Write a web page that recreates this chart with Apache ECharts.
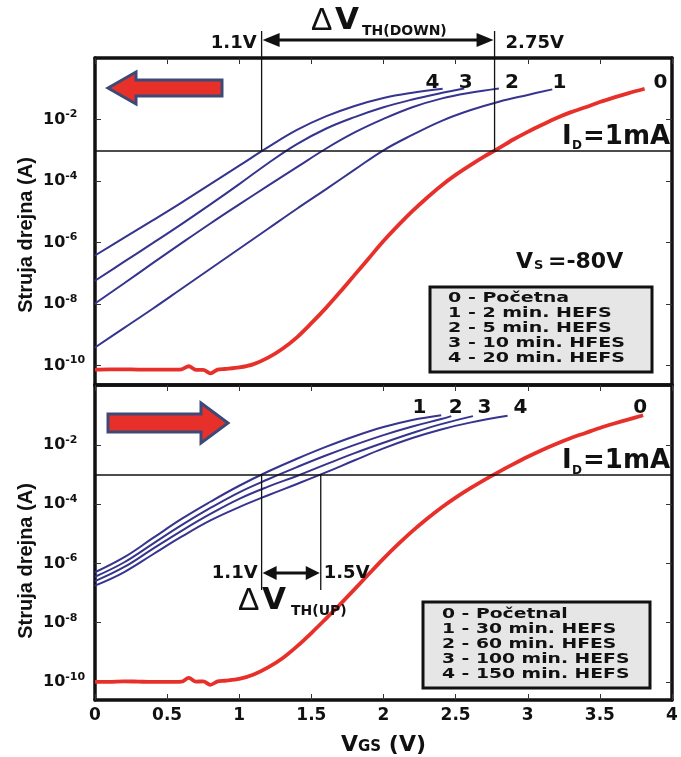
<!DOCTYPE html>
<html><head><meta charset="utf-8">
<script src="https://cdn.jsdelivr.net/npm/echarts@6/dist/echarts.min.js"></script>
<style>html,body{margin:0;padding:0;background:#fff}#c{width:681px;height:757px}</style>
</head><body><div id="c"></div>
<script>
// ---------- DATA (drain current given as log10(I/A)) ----------
// Top panel: threshold shift DOWN
const V_TOP_0   = [0,0.1,0.2,0.3,0.4,0.5,0.6,0.65,0.7,0.75,0.8,0.85,0.9,1.0,1.1,1.2,1.3,1.4,1.5,1.6,1.7,1.8,1.9,2.0,2.1,2.2,2.3,2.4,2.5,2.6,2.7,2.8,2.9,3.0,3.1,3.2,3.3,3.4,3.5,3.6,3.7,3.81];
const LOGI_TOP_0= [-10.13,-10.12,-10.12,-10.13,-10.13,-10.13,-10.12,-10.02,-10.14,-10.14,-10.25,-10.13,-10.11,-10.06,-9.95,-9.74,-9.45,-9.08,-8.62,-8.13,-7.6,-7.05,-6.5,-5.95,-5.45,-4.98,-4.55,-4.15,-3.8,-3.49,-3.2,-2.93,-2.65,-2.4,-2.17,-1.95,-1.76,-1.6,-1.43,-1.28,-1.14,-1.0];
const V_TOP_1   = [0,0.2,0.4,0.6,0.8,1.0,1.2,1.4,1.6,1.8,2.0,2.2,2.4,2.6,2.8,3.0,3.17];
const LOGI_TOP_1= [-9.41,-8.78,-8.15,-7.5,-6.85,-6.2,-5.55,-4.9,-4.27,-3.63,-3.0,-2.5,-2.05,-1.7,-1.42,-1.2,-1.02];
const V_TOP_2   = [0,0.2,0.4,0.6,0.8,1.0,1.2,1.4,1.6,1.8,2.0,2.2,2.4,2.6,2.8];
const LOGI_TOP_2= [-7.98,-7.33,-6.67,-6.02,-5.38,-4.76,-4.15,-3.55,-2.95,-2.42,-1.98,-1.6,-1.32,-1.13,-0.99];
const V_TOP_3   = [0,0.2,0.4,0.6,0.8,1.0,1.2,1.4,1.6,1.8,2.0,2.2,2.4,2.56];
const LOGI_TOP_3= [-7.24,-6.63,-6.02,-5.40,-4.76,-4.10,-3.42,-2.8,-2.3,-1.92,-1.6,-1.35,-1.14,-0.99];
const V_TOP_4   = [0,0.2,0.4,0.6,0.8,1.0,1.2,1.4,1.6,1.8,2.0,2.2,2.41];
const LOGI_TOP_4= [-6.42,-5.85,-5.28,-4.70,-4.10,-3.50,-2.9,-2.34,-1.9,-1.56,-1.3,-1.13,-1.0];

// Bottom panel: threshold shift UP
const V_BOT_0   = [0,0.1,0.2,0.3,0.4,0.5,0.6,0.65,0.7,0.75,0.8,0.85,0.9,1.0,1.1,1.2,1.3,1.4,1.5,1.6,1.7,1.8,1.9,2.0,2.1,2.2,2.3,2.4,2.5,2.6,2.7,2.8,2.9,3.0,3.1,3.2,3.3,3.4,3.5,3.6,3.7,3.8];
const LOGI_BOT_0= [-10.0,-10.0,-9.98,-9.99,-10.0,-10.0,-9.99,-9.86,-9.99,-9.98,-10.1,-9.98,-9.96,-9.9,-9.75,-9.51,-9.2,-8.8,-8.35,-7.87,-7.38,-6.87,-6.35,-5.84,-5.36,-4.91,-4.5,-4.12,-3.78,-3.47,-3.18,-2.91,-2.65,-2.4,-2.17,-1.96,-1.77,-1.6,-1.43,-1.28,-1.14,-1.0];
const V_BOT_1   = [0,0.2,0.4,0.6,0.8,1.0,1.2,1.4,1.6,1.8,2.0,2.2,2.4];
const LOGI_BOT_1= [-6.3,-5.8,-5.15,-4.5,-3.92,-3.38,-2.9,-2.47,-2.07,-1.71,-1.4,-1.16,-1.0];
const V_BOT_2   = [0,0.2,0.4,0.6,0.8,1.0,1.2,1.4,1.6,1.8,2.0,2.2,2.4,2.47];
const LOGI_BOT_2= [-6.45,-5.97,-5.34,-4.71,-4.13,-3.6,-3.16,-2.75,-2.36,-2.0,-1.67,-1.38,-1.13,-1.03];
const V_BOT_3   = [0,0.2,0.4,0.6,0.8,1.0,1.2,1.4,1.6,1.8,2.0,2.2,2.4,2.62];
const LOGI_BOT_3= [-6.6,-6.13,-5.51,-4.9,-4.33,-3.82,-3.41,-3.05,-2.66,-2.28,-1.93,-1.6,-1.3,-1.03];
const V_BOT_4   = [0,0.2,0.4,0.6,0.8,1.0,1.2,1.4,1.6,1.8,2.0,2.2,2.4,2.6,2.86];
const LOGI_BOT_4= [-6.75,-6.3,-5.7,-5.1,-4.55,-4.1,-3.7,-3.32,-2.93,-2.52,-2.12,-1.77,-1.48,-1.25,-1.02];

const Y_TICKS = [-10,-8,-6,-4,-2];          // 10^n tick labels
const ID_LEVEL = -3;                         // I_D = 1 mA
const VTH_DOWN = [1.155, 2.77];              // labelled 1.1V and 2.75V
const VTH_DOWN_TXT = ['1.1V','2.75V'];
const VTH_UP = [1.155, 1.565];               // labelled 1.1V and 1.5V
const VTH_UP_TXT = ['1.1V','1.5V'];
const TOP_LABELS = ['0','1','2','3','4'];
const TOP_LABEL_V = [3.92,3.22,2.89,2.57,2.34];
const BOT_LABELS = ['0','1','2','3','4'];
const BOT_LABEL_V = [3.78,2.25,2.50,2.70,2.95];
const LEGEND_TOP = ['0 - Početna','1 - 2 min. HEFS','2 - 5 min. HEFS','3 - 10 min. HFES','4 - 20 min. HEFS'];
const LEGEND_BOT = ['0 - Početnal','1 - 30 min. HEFS','2 - 60 min. HFES','3 - 100 min. HEFS','4 - 150 min. HEFS'];

// ---------- CHART ----------
const BLUE = '#35348e', RED = '#e8302a', FONT = 'DejaVu Sans';
const zip = (v,l) => v.map((x,i)=>[x,l[i]]);
const chart = echarts.init(document.getElementById('c'), null, {renderer:'canvas'});

const yMinMax = [[-10.63, 0.0], [-10.61, 0.02]];
function yAxisDef(gi, left){
  return {type:'value', gridIndex:gi, position:left?'left':'right', min:yMinMax[gi][0], max:yMinMax[gi][1],
    splitLine:{show:false},
    axisLine:{show:true, onZero:false, lineStyle:{color:'#111', width:3.5}},
    axisTick:{show:true, inside:true, length:6, customValues:Y_TICKS, lineStyle:{color:'#333', width:1}},
    axisLabel: left ? {show:true, customValues:Y_TICKS, align:'left', margin:52,
      formatter: v => '{a|10}{b|' + v + '}',
      rich:{a:{fontFamily:FONT,fontWeight:'bold',fontSize:16,color:'#111'},
            b:{fontFamily:FONT,fontWeight:'bold',fontSize:11,color:'#111',padding:[0,0,10,0]}}} : {show:false}
  };
}
function xAxisDef(gi, pos, ticks, labels){
  const a = {type:'value', gridIndex:gi, position:pos, min:0, max:4, interval:0.5, splitLine:{show:false},
    axisLine:{show:true, onZero:false, lineStyle:{color:'#111', width:3.5}},
    axisTick:{show:ticks, inside:true, length:6, lineStyle:{color:'#333', width:1}},
    axisLabel:{show:labels, margin:7, fontFamily:FONT, fontWeight:'bold', fontSize:17, color:'#111'}};
  if (labels) {
    a.name = '{v|V}{s|GS}{v| (V)}';
    a.nameLocation = 'middle'; a.nameGap = 34;
    a.nameTextStyle = {rich:{v:{fontFamily:FONT,fontWeight:'bold',fontSize:22,color:'#111'},
                             s:{fontFamily:FONT,fontWeight:'bold',fontSize:15,color:'#111',padding:[4,0,0,0]}}};
  }
  return a;
}
function blue(name, xi, v, l){
  return {name, type:'line', xAxisIndex:xi, yAxisIndex:xi, data:zip(v,l), showSymbol:false, smooth:0.4,
    lineStyle:{color:BLUE, width:2}, itemStyle:{color:BLUE}, z:3};
}
function red(name, xi, v, l){
  return {name, type:'line', xAxisIndex:xi, yAxisIndex:xi, data:zip(v,l), showSymbol:false, smooth:0.3,
    lineStyle:{color:RED, width:3.8}, itemStyle:{color:RED}, z:4,
    markLine:{silent:true, symbol:'none', animation:false, label:{show:false},
      lineStyle:{color:'#111', width:1.5, type:'solid'}, data:[{yAxis:ID_LEVEL}]}};
}

const option = {
  animation:false,
  backgroundColor:'#fff',
  grid:[{left:95, right:9, top:58, height:327}, {left:95, right:9, top:385, height:327}],
  xAxis:[xAxisDef(0,'bottom',false,false), xAxisDef(0,'top',true,false),
         xAxisDef(1,'bottom',true,true), xAxisDef(1,'top',true,false)],
  yAxis:[yAxisDef(0,true), yAxisDef(0,false), yAxisDef(1,true), yAxisDef(1,false)],
  series:[
    blue('top1',0,V_TOP_1,LOGI_TOP_1), blue('top2',0,V_TOP_2,LOGI_TOP_2),
    blue('top3',0,V_TOP_3,LOGI_TOP_3), blue('top4',0,V_TOP_4,LOGI_TOP_4),
    red('top0',0,V_TOP_0,LOGI_TOP_0),
    blue('bot1',2,V_BOT_1,LOGI_BOT_1), blue('bot2',2,V_BOT_2,LOGI_BOT_2),
    blue('bot3',2,V_BOT_3,LOGI_BOT_3), blue('bot4',2,V_BOT_4,LOGI_BOT_4),
    red('bot0',2,V_BOT_0,LOGI_BOT_0)
  ]
};
chart.setOption(option);

// ---------- ANNOTATIONS ----------
const P0 = (v,l) => chart.convertToPixel({xAxisIndex:0, yAxisIndex:0}, [v,l]);
const P1 = (v,l) => chart.convertToPixel({xAxisIndex:2, yAxisIndex:2}, [v,l]);
const g = [];
function line(x1,y1,x2,y2,w){ g.push({type:'line', shape:{x1,y1,x2,y2}, style:{stroke:'#111', lineWidth:w||1.3}, z:10}); }
function txt(x,y,s,size,opt){
  opt = opt||{};
  const align = opt.align||'left';
  g.push({type:'text', x, y, rotation:opt.rot||0, z:11,
    style:{text:s, fontFamily:opt.family||FONT, fontWeight:opt.weight||'bold', fontSize:size, fill:opt.color||'#111',
      align, verticalAlign:'middle', textAlign:align, textVerticalAlign:'middle'}});
}
function dblArrow(xa, xb, y, hl, hh, lw){
  line(xa+hl-2, y, xb-hl+2, y, lw);
  g.push({type:'polygon', shape:{points:[[xa,y],[xa+hl,y-hh],[xa+hl,y+hh]]}, style:{fill:'#111'}, z:10});
  g.push({type:'polygon', shape:{points:[[xb,y],[xb-hl,y-hh],[xb-hl,y+hh]]}, style:{fill:'#111'}, z:10});
}

// top panel threshold markers
const ta = P0(VTH_DOWN[0], ID_LEVEL), tb = P0(VTH_DOWN[1], ID_LEVEL);
line(ta[0], 31, ta[0], ta[1]); line(tb[0], 31, tb[0], tb[1]);
dblArrow(ta[0]+1, tb[0]-1, 40, 17, 7, 3);
txt(ta[0]-5, 43, VTH_DOWN_TXT[0], 18, {align:'right'});
txt(tb[0]+11, 43, VTH_DOWN_TXT[1], 18);
txt(311, 21, 'Δ', 32, {weight:'normal', family:'Liberation Sans'});
txt(335, 21, 'V', 31);
txt(362, 31, 'TH(DOWN)', 14);

// bottom panel threshold markers
const ba = P1(VTH_UP[0], ID_LEVEL), bb = P1(VTH_UP[1], ID_LEVEL);
line(ba[0], ba[1], ba[0], 590); line(bb[0], bb[1], bb[0], 590);
dblArrow(ba[0]+1, bb[0]-1, 573, 14, 7, 3);
txt(ba[0]-4, 573, VTH_UP_TXT[0], 18, {align:'right'});
txt(bb[0]+3, 573, VTH_UP_TXT[1], 18);
txt(238, 601, 'Δ', 32, {weight:'normal', family:'Liberation Sans'});
txt(262, 601, 'V', 31);
txt(291, 611, 'TH(UP)', 14);

// I_D = 1mA labels
[P0(4, ID_LEVEL)[1], P1(4, ID_LEVEL)[1]].forEach(yl => {
  const yc = yl - 13;
  txt(562, yc, 'I', 26);
  txt(572, yc+9, 'D', 12);
  txt(583, yc, '=1mA', 26);
});

// V_S = -80V
txt(516, 262, 'V', 22);
txt(534, 266, 'S', 13);
txt(548, 262, '=-80V', 22);

// curve numbers
TOP_LABELS.forEach((s,i) => { const p = P0(TOP_LABEL_V[i], -0.8); txt(p[0], p[1], s, 20, {align:'center'}); });
BOT_LABELS.forEach((s,i) => { const p = P1(BOT_LABEL_V[i], -0.75); txt(p[0], p[1], s, 20, {align:'center'}); });

// legends
function legendBox(x, y, w, h, lines, tx, ty, sx){
  g.push({type:'rect', shape:{x, y, width:w, height:h}, style:{fill:'#e6e6e6', stroke:'#111', lineWidth:3}, z:9});
  g.push({type:'group', x:tx, y:ty, scaleX:sx, z:11,
    children: lines.map((s,i) => ({type:'text', x:0, y:i*15, z:11,
      style:{text:s, fontFamily:FONT, fontWeight:'bold', fontSize:14, fill:'#111',
        align:'left', verticalAlign:'middle', textAlign:'left', textVerticalAlign:'middle'}}))});
}
legendBox(430, 287, 222, 85, LEGEND_TOP, 448, 298, 1.36);
legendBox(423, 602, 227, 86, LEGEND_BOT, 442, 614, 1.34);

// direction arrows
g.push({type:'polygon', z:10, shape:{points:[[108,88],[136,72],[136,80],[222,80],[222,96],[136,96],[136,104]]},
  style:{fill:RED, stroke:'#3d4a78', lineWidth:3, lineJoin:'miter'}});
g.push({type:'polygon', z:10, shape:{points:[[108,414],[201,414],[201,403],[228,423],[201,443],[201,432],[108,432]]},
  style:{fill:RED, stroke:'#3d4a78', lineWidth:3, lineJoin:'miter'}});

// y-axis titles
txt(26, 235, 'Struja drejna (A)', 20, {rot:Math.PI/2, align:'center', family:'Liberation Sans'});
txt(26, 561, 'Struja drejna (A)', 20, {rot:Math.PI/2, align:'center', family:'Liberation Sans'});

chart.setOption({graphic:{elements:g}});
</script></body></html>
